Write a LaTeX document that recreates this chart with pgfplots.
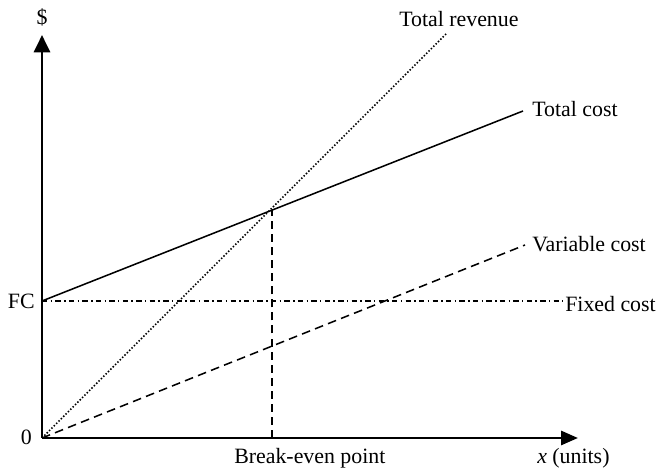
\documentclass[border=0pt]{standalone}
\usepackage{fontspec}
\setmainfont{Liberation Serif}
\usepackage{pgfplots}
\pgfplotsset{compat=1.18}
\usetikzlibrary{arrows.meta}
\begin{document}
\fontsize{16.4}{19}\selectfont
\begin{tikzpicture}
\useasboundingbox (-31.5pt,-24pt) rectangle (461.25pt,328.5pt);
\begin{axis}[
  x=0.75pt, y=0.75pt,
  xmin=0, xmax=536, ymin=0, ymax=403,
  axis lines=left,
  axis line style={line width=2.2pt},
  x axis line style={-{Triangle[length=12.75pt,width=10.5pt]}},
  y axis line style={-{Triangle[length=13pt,width=12pt]}},
  xtick=\empty, ytick=\empty,
  clip=false,
  every axis plot/.append style={line width=1.15pt},
]
% Total revenue
\addplot[black, dash pattern=on 1.1pt off 1.4pt] coordinates {(0,0) (405,405)};
% Total cost
\addplot[black] coordinates {(0,137) (481,327)};
% Variable cost
\addplot[black, dash pattern=on 6.5pt off 4pt] coordinates {(0,0) (483,193)};
% Fixed cost
\addplot[black, dash pattern=on 4pt off 2.5pt on 1.1pt off 2.5pt] coordinates {(0,137) (521,137)};
% Break-even
\addplot[black, dash pattern=on 6pt off 3.8pt] coordinates {(230,0) (230,228)};

\node[anchor=base west, inner sep=0pt] at (axis cs:357,411) {Total revenue};
\node[anchor=base west, inner sep=0pt] at (axis cs:490,321) {Total cost};
\node[anchor=base west, inner sep=0pt] at (axis cs:490,186) {Variable cost};
\node[anchor=base west, inner sep=0pt] at (axis cs:523,126) {Fixed cost};
\node[anchor=base east, inner sep=0pt] at (axis cs:-7,129) {FC};
\node[anchor=base east, inner sep=0pt] at (axis cs:-10,-7) {0};
\node[anchor=base, inner sep=0pt] at (axis cs:0,413) {\$};
\node[anchor=base west, inner sep=0pt] at (axis cs:192,-26) {Break-even point};
\node[anchor=base west, inner sep=0pt] at (axis cs:495,-26) {\textit{x} (units)};
\end{axis}
\end{tikzpicture}
\end{document}
